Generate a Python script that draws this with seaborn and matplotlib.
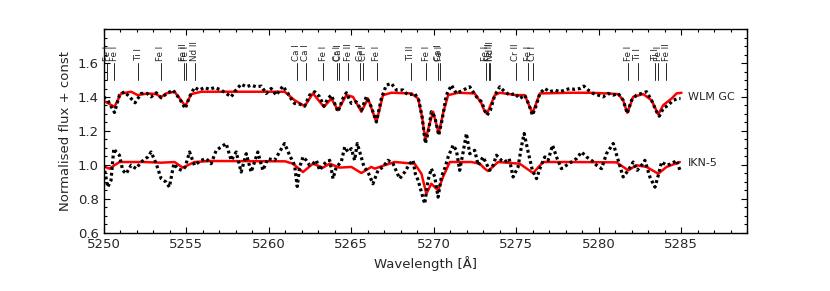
import matplotlib

matplotlib.use("Agg")
import matplotlib.pyplot as plt
import numpy as np
import pandas as pd
import seaborn as sns
from matplotlib.ticker import MultipleLocator

# --- spectral line identifications -------------------------------------
line_wave = [5250.21, 5250.65, 5252.10, 5253.46, 5254.86, 5254.96, 5255.51,
             5261.71, 5262.24, 5263.31, 5264.15, 5264.24, 5264.81, 5265.56,
             5265.72, 5266.56, 5268.61, 5269.54, 5270.27, 5270.36,
             5273.16, 5273.38, 5273.43, 5274.98, 5275.74, 5276.00,
             5281.79, 5282.38, 5283.44, 5283.62, 5284.10]
line_name = ["Fe I", "Fe I", "Ti I", "Fe I", "Fe II", "Fe I", "Nd II",
             "Ca I", "Ca I", "Fe I", "Cr I", "Ca I", "Fe II", "Ca I",
             "Cr I", "Fe I", "Ti II", "Fe I", "Ca I", "Fe I",
             "Fe I", "Fe II", "Nd II", "Cr II", "Fe I", "Cr I",
             "Fe I", "Ti I", "Ti I", "Fe I", "Fe II"]

# --- WLM GC (plotted with +0.4 offset) ---------------------------------
wlm_offset = 0.4
wlm_obs_wave = [5250.00, 5250.24, 5250.65, 5250.95, 5251.25, 5251.56, 5251.90,
                5252.27, 5252.63, 5252.87, 5253.18, 5253.48, 5253.78, 5254.19,
                5254.59, 5254.94, 5255.20, 5255.50, 5255.80, 5256.11, 5256.41,
                5256.72, 5257.12, 5257.42, 5257.73, 5257.93, 5258.33, 5258.64,
                5258.94, 5259.24, 5259.55, 5259.85, 5260.15, 5260.46, 5260.86,
                5261.17, 5261.47, 5261.57, 5261.88, 5262.18, 5262.48, 5262.79,
                5263.09, 5263.35, 5263.59, 5263.80, 5264.20, 5264.50, 5264.71,
                5265.01, 5265.31, 5265.62, 5265.92, 5266.22, 5266.53, 5266.83,
                5267.13, 5267.44, 5267.74, 5268.15, 5268.45, 5268.85, 5269.10,
                5269.30, 5269.50, 5269.70, 5269.86, 5270.07, 5270.31, 5270.51,
                5270.77, 5271.08, 5271.38, 5271.79, 5272.19, 5272.60, 5272.90,
                5273.10, 5273.24, 5273.44, 5273.71, 5274.01, 5274.31, 5274.62,
                5274.92, 5275.22, 5275.53, 5275.79, 5275.99, 5276.19, 5276.44,
                5276.74, 5277.04, 5277.35, 5277.65, 5277.95, 5278.26, 5278.56,
                5278.87, 5279.11, 5279.37, 5279.67, 5279.98, 5280.28, 5280.58,
                5280.89, 5281.19, 5281.49, 5281.74, 5282.00, 5282.30, 5282.61,
                5282.91, 5283.21, 5283.52, 5283.68, 5283.92, 5284.22, 5284.53,
                5284.83, 5284.97]
wlm_obs_flux = [1.001, 0.981, 0.909, 1.011, 1.031, 1.001, 0.966,
                1.021, 1.021, 1.001, 1.025, 0.995, 1.017, 1.041,
                0.991, 0.932, 1.001, 1.056, 1.041, 1.056, 1.045,
                1.056, 1.041, 1.021, 1.001, 1.031, 1.076, 1.060,
                1.070, 1.060, 1.064, 1.021, 1.050, 1.011, 1.064,
                1.021, 0.972, 0.962, 0.958, 0.946, 1.011, 1.031,
                1.001, 0.946, 0.991, 1.011, 0.913, 0.991, 1.025,
                0.962, 0.972, 0.922, 1.001, 0.942, 0.853, 0.991,
                1.070, 1.080, 1.041, 1.041, 1.011, 1.021, 0.981,
                0.883, 0.726, 0.804, 0.913, 0.883, 0.775, 0.863,
                1.011, 1.070, 1.021, 1.041, 1.060, 1.001, 0.972,
                0.922, 0.893, 0.922, 1.011, 1.060, 1.031, 1.011,
                1.021, 0.991, 1.011, 0.952, 0.893, 0.942, 1.021,
                1.050, 1.031, 1.041, 1.031, 1.041, 1.050, 1.045,
                1.050, 1.064, 1.041, 1.021, 1.011, 1.001, 1.021,
                1.011, 1.021, 0.981, 0.903, 0.981, 1.011, 1.021,
                1.031, 0.981, 0.913, 0.887, 0.932, 0.952, 0.981,
                0.991, 0.991]
wlm_fit_wave = [5250.00, 5250.65, 5251.05, 5251.66, 5252.06, 5252.67, 5253.18,
                5253.48, 5253.78, 5254.29, 5254.69, 5254.94, 5255.30, 5255.91,
                5257.52, 5260.46, 5260.97, 5261.57, 5262.18, 5262.68, 5263.35,
                5263.80, 5264.20, 5264.71, 5265.11, 5265.62, 5266.02, 5266.53,
                5266.93, 5267.44, 5268.65, 5269.06, 5269.30, 5269.50, 5269.76,
                5269.97, 5270.31, 5270.57, 5270.88, 5271.48, 5272.49, 5272.90,
                5273.10, 5273.24, 5273.71, 5274.01, 5275.02, 5275.53, 5275.99,
                5276.44, 5278.26, 5279.47, 5280.48, 5281.19, 5281.49, 5281.74,
                5282.10, 5282.71, 5283.21, 5283.62, 5283.92, 5284.43, 5284.73,
                5285.03]
wlm_fit_flux = [0.978, 0.942, 1.021, 1.031, 1.011, 1.021, 1.017,
                0.999, 1.021, 1.031, 0.981, 0.946, 1.017, 1.031,
                1.031, 1.031, 1.031, 0.981, 0.946, 1.021, 0.942,
                0.991, 0.922, 1.011, 1.001, 0.913, 0.991, 0.853,
                1.011, 1.025, 1.021, 0.991, 0.883, 0.745, 0.844,
                0.913, 0.785, 0.903, 1.011, 1.025, 1.021, 0.962,
                0.913, 0.903, 1.011, 1.025, 1.011, 1.011, 0.903,
                1.021, 1.025, 1.025, 1.021, 1.017, 0.981, 0.907,
                1.001, 1.017, 0.981, 0.897, 0.952, 0.991, 1.021,
                1.025]

# --- IKN-5 -------------------------------------------------------------
ikn_obs_wave = [5250.00, 5250.24, 5250.44, 5250.61, 5250.75, 5250.95, 5251.15,
                5251.36, 5251.66, 5251.96, 5252.27, 5252.67, 5252.87, 5253.18,
                5253.48, 5253.78, 5253.98, 5254.25, 5254.49, 5254.73, 5254.94,
                5255.20, 5255.50, 5255.91, 5256.21, 5256.51, 5256.82, 5257.12,
                5257.42, 5257.73, 5258.03, 5258.33, 5258.64, 5258.94, 5259.34,
                5259.65, 5259.95, 5260.36, 5260.66, 5260.96, 5261.27, 5261.57,
                5261.73, 5261.88, 5262.08, 5262.28, 5262.48, 5262.68, 5262.89,
                5263.09, 5263.29, 5263.49, 5263.70, 5263.90, 5264.10, 5264.40,
                5264.61, 5264.81, 5265.01, 5265.21, 5265.37, 5265.58, 5265.78,
                5266.02, 5266.32, 5266.63, 5266.93, 5267.23, 5267.54, 5267.94,
                5268.25, 5268.55, 5268.75, 5268.89, 5269.06, 5269.26, 5269.46,
                5269.66, 5269.86, 5270.07, 5270.27, 5270.47, 5270.67, 5270.88,
                5271.18, 5271.38, 5271.58, 5271.79, 5271.99, 5272.19, 5272.49,
                5272.70, 5273.00, 5273.20, 5273.40, 5273.61, 5273.81, 5274.11,
                5274.31, 5274.58, 5274.82, 5275.12, 5275.32, 5275.49, 5275.73,
                5275.99, 5276.24, 5276.48, 5276.74, 5276.94, 5277.21, 5277.45,
                5277.75, 5278.06, 5278.36, 5278.66, 5278.97, 5279.27, 5279.57,
                5279.88, 5280.18, 5280.48, 5280.89, 5281.19, 5281.49, 5281.80,
                5282.10, 5282.34, 5282.61, 5282.81, 5283.11, 5283.42, 5283.62,
                5283.82, 5284.12, 5284.43, 5284.73, 5284.97]
ikn_obs_flux = [0.998, 0.869, 0.909, 1.096, 1.076, 1.057, 0.968,
                0.948, 0.998, 0.978, 1.017, 1.047, 1.076, 1.007,
                0.919, 0.899, 0.869, 1.007, 0.978, 0.968, 0.988,
                1.076, 0.998, 1.027, 1.037, 1.007, 1.086, 1.106,
                1.126, 1.027, 1.076, 0.958, 1.066, 0.958, 1.076,
                0.968, 1.037, 1.027, 1.076, 1.126, 1.057, 0.998,
                0.873, 0.988, 1.047, 1.027, 0.998, 1.007, 1.027,
                0.968, 0.998, 1.017, 1.027, 0.919, 0.988, 1.017,
                1.106, 1.076, 1.096, 1.027, 1.126, 1.057, 0.988,
                0.958, 0.889, 0.968, 0.988, 1.027, 1.007, 0.919,
                0.958, 1.007, 1.027, 0.948, 0.909, 0.840, 0.771,
                0.909, 0.978, 0.929, 0.810, 0.929, 0.978, 1.047,
                1.116, 1.086, 0.968, 1.076, 1.185, 1.066, 1.086,
                0.998, 1.047, 1.007, 0.968, 0.998, 1.057, 1.027,
                1.017, 1.037, 0.929, 0.988, 1.106, 1.185, 1.076,
                0.968, 0.919, 0.988, 1.047, 1.027, 1.116, 1.047,
                0.978, 0.998, 1.017, 1.037, 1.076, 1.047, 1.027,
                0.998, 0.978, 1.066, 1.126, 1.027, 0.929, 0.968,
                1.017, 0.968, 0.998, 1.027, 0.929, 0.869, 0.938,
                1.017, 0.998, 1.007, 1.027, 0.958]
ikn_fit_wave = [5250.00, 5250.34, 5250.95, 5252.47, 5253.48, 5254.29, 5254.79,
                5255.50, 5256.51, 5261.00, 5261.47, 5262.08, 5262.68, 5263.29,
                5263.70, 5264.30, 5265.01, 5265.62, 5266.22, 5266.43, 5267.03,
                5267.64, 5268.85, 5269.26, 5269.56, 5269.86, 5270.27, 5270.57,
                5270.98, 5272.29, 5272.80, 5273.10, 5273.30, 5273.91, 5275.22,
                5276.03, 5276.64, 5278.26, 5281.09, 5281.80, 5282.30, 5282.91,
                5283.62, 5284.12, 5284.93]
ikn_fit_flux = [0.992, 0.978, 1.017, 1.017, 1.013, 1.017, 0.984,
                1.017, 1.023, 1.021, 1.007, 0.958, 1.007, 0.984,
                1.007, 0.984, 0.988, 0.952, 0.988, 0.978, 0.998,
                1.017, 1.007, 0.948, 0.830, 0.889, 0.850, 0.929,
                1.017, 1.017, 1.007, 0.978, 0.964, 1.017, 1.007,
                0.952, 1.017, 1.017, 1.015, 0.968, 0.998, 0.988,
                0.948, 0.988, 1.017]

sns.set_style("ticks")
plt.rcParams["font.family"] = ["DejaVu Sans"]

fig, ax = plt.subplots(figsize=(8.3, 2.91), dpi=100)
fig.subplots_adjust(left=0.125, right=0.9, bottom=0.2, top=0.9)

wlm_obs = pd.DataFrame({"wave": wlm_obs_wave, "flux": np.array(wlm_obs_flux) + wlm_offset})
wlm_fit = pd.DataFrame({"wave": wlm_fit_wave, "flux": np.array(wlm_fit_flux) + wlm_offset})
ikn_obs = pd.DataFrame({"wave": ikn_obs_wave, "flux": ikn_obs_flux})
ikn_fit = pd.DataFrame({"wave": ikn_fit_wave, "flux": ikn_fit_flux})

for obs, fit in [(wlm_obs, wlm_fit), (ikn_obs, ikn_fit)]:
    sns.lineplot(data=fit, x="wave", y="flux", ax=ax, color="red", lw=1.8, zorder=2)
    sns.lineplot(data=obs, x="wave", y="flux", ax=ax, color="black", lw=2.3,
                 linestyle=(0, (0.9, 0.9)), zorder=3)

# line markers with rotated labels above them
for w, name in zip(line_wave, line_name):
    ax.plot([w, w], [1.50, 1.60], color="0.15", lw=0.7)
    ax.text(w, 1.615, name, rotation=90, ha="center", va="bottom", fontsize=6.3,
            color="0.15")

ax.text(5285.4, 1.40, "WLM GC", fontsize=8, va="center")
ax.text(5285.4, 1.01, "IKN-5", fontsize=8, va="center")

ax.set_xlim(5250, 5289)
ax.set_ylim(0.6, 1.8)
ax.set_yticks([0.6, 0.8, 1.0, 1.2, 1.4, 1.6])
ax.xaxis.set_major_locator(MultipleLocator(5))
ax.xaxis.set_minor_locator(MultipleLocator(1))
ax.yaxis.set_minor_locator(MultipleLocator(0.05))
ax.tick_params(which="both", direction="in", top=True, right=True, labelsize=9.5,
               color="black", width=0.8)
ax.tick_params(which="major", length=4)
ax.tick_params(which="minor", length=2)
for s in ax.spines.values():
    s.set_color("black")
    s.set_linewidth(1.0)
ax.set_xlabel("Wavelength [Å]", fontsize=9.5)
ax.set_ylabel("Normalised flux + const", fontsize=9.5)

fig.savefig("out.png", dpi=100)
